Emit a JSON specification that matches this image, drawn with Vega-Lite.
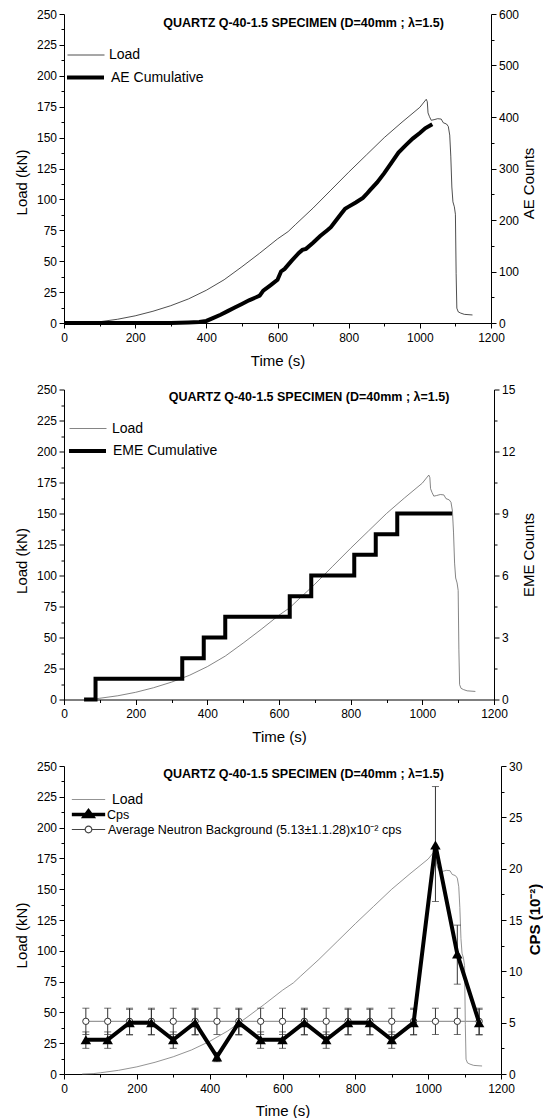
{
  "$schema": "https://vega.github.io/schema/vega-lite/v6.json",
  "padding": {"left": 14, "top": 8, "right": 0, "bottom": 0},
  "spacing": 15.5,
  "datasets": {
    "load": [
      {"t": 0, "kN": 0}, {"t": 50, "kN": 0}, {"t": 80, "kN": 0.3}, {"t": 100, "kN": 1}, {"t": 150, "kN": 3},
      {"t": 200, "kN": 5.8}, {"t": 250, "kN": 9.5}, {"t": 300, "kN": 14}, {"t": 350, "kN": 19.5}, {"t": 400, "kN": 26.5},
      {"t": 450, "kN": 35}, {"t": 500, "kN": 45.5}, {"t": 550, "kN": 56.5}, {"t": 600, "kN": 68}, {"t": 630, "kN": 74},
      {"t": 650, "kN": 79.5}, {"t": 700, "kN": 93}, {"t": 750, "kN": 107.5}, {"t": 800, "kN": 122}, {"t": 850, "kN": 136},
      {"t": 900, "kN": 150}, {"t": 950, "kN": 162.5}, {"t": 1000, "kN": 174.5}, {"t": 1018, "kN": 181}, {"t": 1021, "kN": 179},
      {"t": 1023, "kN": 170}, {"t": 1027, "kN": 167}, {"t": 1032, "kN": 164}, {"t": 1040, "kN": 164.5}, {"t": 1050, "kN": 165.3},
      {"t": 1060, "kN": 165}, {"t": 1066, "kN": 162}, {"t": 1075, "kN": 161}, {"t": 1080, "kN": 159}, {"t": 1084, "kN": 152},
      {"t": 1087, "kN": 135}, {"t": 1090, "kN": 110}, {"t": 1093, "kN": 98}, {"t": 1097, "kN": 94}, {"t": 1100, "kN": 88},
      {"t": 1102, "kN": 40}, {"t": 1104, "kN": 12}, {"t": 1108, "kN": 9}, {"t": 1115, "kN": 8}, {"t": 1125, "kN": 7}, {"t": 1148, "kN": 6.5}
    ],
    "ae": [
      {"t": 0, "n": 0}, {"t": 300, "n": 0}, {"t": 350, "n": 1}, {"t": 380, "n": 2}, {"t": 400, "n": 4}, {"t": 420, "n": 10},
      {"t": 440, "n": 16}, {"t": 460, "n": 23}, {"t": 480, "n": 30}, {"t": 500, "n": 37}, {"t": 520, "n": 44}, {"t": 540, "n": 50},
      {"t": 550, "n": 53}, {"t": 560, "n": 63}, {"t": 580, "n": 73}, {"t": 600, "n": 84}, {"t": 610, "n": 100}, {"t": 620, "n": 105},
      {"t": 640, "n": 121}, {"t": 660, "n": 136}, {"t": 670, "n": 142}, {"t": 680, "n": 144}, {"t": 700, "n": 156}, {"t": 720, "n": 169},
      {"t": 740, "n": 180}, {"t": 750, "n": 186}, {"t": 760, "n": 195}, {"t": 780, "n": 213}, {"t": 790, "n": 222}, {"t": 800, "n": 226},
      {"t": 820, "n": 234}, {"t": 840, "n": 243}, {"t": 850, "n": 250}, {"t": 860, "n": 258}, {"t": 880, "n": 273}, {"t": 900, "n": 291},
      {"t": 920, "n": 311}, {"t": 940, "n": 331}, {"t": 960, "n": 345}, {"t": 980, "n": 358}, {"t": 1000, "n": 369}, {"t": 1015, "n": 378},
      {"t": 1035, "n": 386}
    ],
    "eme": [
      {"t": 56, "n": 0}, {"t": 88, "n": 1}, {"t": 330, "n": 2}, {"t": 390, "n": 3}, {"t": 450, "n": 4}, {"t": 630, "n": 5},
      {"t": 690, "n": 6}, {"t": 810, "n": 7}, {"t": 870, "n": 8}, {"t": 930, "n": 9}, {"t": 1083, "n": 9}
    ],
    "cps": [
      {"t": 60, "v": 3.33, "lo": 2.5, "hi": 4.1}, {"t": 120, "v": 3.33, "lo": 2.5, "hi": 4.1},
      {"t": 180, "v": 5, "lo": 3.8, "hi": 6.3}, {"t": 240, "v": 5, "lo": 3.8, "hi": 6.3},
      {"t": 300, "v": 3.33, "lo": 2.5, "hi": 4.1}, {"t": 360, "v": 5, "lo": 3.8, "hi": 6.3},
      {"t": 420, "v": 1.67, "lo": 1.2, "hi": 2.1}, {"t": 480, "v": 5, "lo": 3.8, "hi": 6.3},
      {"t": 540, "v": 3.33, "lo": 2.5, "hi": 4.1}, {"t": 600, "v": 3.33, "lo": 2.5, "hi": 4.1},
      {"t": 660, "v": 5, "lo": 3.8, "hi": 6.3}, {"t": 720, "v": 3.33, "lo": 2.5, "hi": 4.1},
      {"t": 780, "v": 5, "lo": 3.8, "hi": 6.3}, {"t": 840, "v": 5, "lo": 3.8, "hi": 6.3},
      {"t": 900, "v": 3.33, "lo": 2.5, "hi": 4.1}, {"t": 960, "v": 5, "lo": 3.8, "hi": 6.3},
      {"t": 1020, "v": 22.3, "lo": 16.8, "hi": 28}, {"t": 1080, "v": 11.7, "lo": 8.75, "hi": 14.5},
      {"t": 1140, "v": 5, "lo": 3.8, "hi": 6.3}
    ],
    "bg": [
      {"t": 60, "v": 5.13, "lo": 3.85, "hi": 6.41}, {"t": 120, "v": 5.13, "lo": 3.85, "hi": 6.41}, {"t": 180, "v": 5.13, "lo": 3.85, "hi": 6.41},
      {"t": 240, "v": 5.13, "lo": 3.85, "hi": 6.41}, {"t": 300, "v": 5.13, "lo": 3.85, "hi": 6.41}, {"t": 360, "v": 5.13, "lo": 3.85, "hi": 6.41},
      {"t": 420, "v": 5.13, "lo": 3.85, "hi": 6.41}, {"t": 480, "v": 5.13, "lo": 3.85, "hi": 6.41}, {"t": 540, "v": 5.13, "lo": 3.85, "hi": 6.41},
      {"t": 600, "v": 5.13, "lo": 3.85, "hi": 6.41}, {"t": 660, "v": 5.13, "lo": 3.85, "hi": 6.41}, {"t": 720, "v": 5.13, "lo": 3.85, "hi": 6.41},
      {"t": 780, "v": 5.13, "lo": 3.85, "hi": 6.41}, {"t": 840, "v": 5.13, "lo": 3.85, "hi": 6.41}, {"t": 900, "v": 5.13, "lo": 3.85, "hi": 6.41},
      {"t": 960, "v": 5.13, "lo": 3.85, "hi": 6.41}, {"t": 1020, "v": 5.13, "lo": 3.85, "hi": 6.41}, {"t": 1080, "v": 5.13, "lo": 3.85, "hi": 6.41},
      {"t": 1140, "v": 5.13, "lo": 3.85, "hi": 6.41}
    ]
  },
  "resolve": {"scale": {"color": "independent", "opacity": "independent", "strokeWidth": "independent"}},
  "vconcat": [
    {
      "width": 427, "height": 309,
      "title": {"text": "QUARTZ Q-40-1.5 SPECIMEN (D=40mm ; λ=1.5)", "frame": "group", "anchor": "middle", "dx": 26, "offset": -21},
      "encoding": {
        "x": {"field": "t", "type": "quantitative", "scale": {"domain": [0, 1200], "nice": false},
          "axis": {"values": [0,100,200,300,400,500,600,700,800,900,1000,1100,1200], "format": "d",
            "labelExpr": "datum.value % 200 === 0 ? datum.label : ''",
            "tickSize": {"condition": {"test": "datum.value % 200 === 0", "value": 5}, "value": 3},
            "title": "Time (s)", "titlePadding": 10, "labelPadding": 4}}
      },
      "layer": [
        {
          "data": {"name": "load"},
          "mark": {"type": "line", "color": "#222", "strokeWidth": 0.8},
          "encoding": {
            "y": {"field": "kN", "type": "quantitative", "scale": {"domain": [0, 250], "nice": false},
              "axis": {"orient": "left", "values": [0,12.5,25,37.5,50,62.5,75,87.5,100,112.5,125,137.5,150,162.5,175,187.5,200,212.5,225,237.5,250],
                "format": "d", "labelExpr": "datum.value % 25 === 0 ? datum.label : ''",
                "tickSize": {"condition": {"test": "datum.value % 25 === 0", "value": 5}, "value": 3},
                "title": "Load (kN)", "titlePadding": 7, "titleY": 168}},
            "color": {"datum": "Load", "scale": {"range": ["#222"]},
              "legend": {"orient": "none", "legendX": 3, "legendY": 22, "title": null, "symbolType": "stroke", "symbolSize": 1369,
                "symbolStrokeWidth": 0.8, "labelFontSize": 14, "labelOffset": 4, "padding": 0}}
          }
        },
        {
          "data": {"name": "ae"},
          "mark": {"type": "line", "color": "black", "strokeWidth": 4},
          "encoding": {
            "y": {"field": "n", "type": "quantitative", "scale": {"domain": [0, 600], "nice": false},
              "axis": {"orient": "right", "values": [0,50,100,150,200,250,300,350,400,450,500,550,600],
                "format": "d", "labelExpr": "datum.value % 100 === 0 ? datum.label : ''",
                "tickSize": {"condition": {"test": "datum.value % 100 === 0", "value": 5}, "value": 3},
                "title": "AE Counts", "titleAngle": 270, "titleBaseline": "top", "titlePadding": 3, "titleY": 169}},
            "opacity": {"datum": "AE Cumulative", "scale": {"range": [1, 1]},
              "legend": {"orient": "none", "legendX": 1, "legendY": 43, "title": null, "symbolType": "stroke", "symbolSize": 1369,
                "symbolStrokeColor": "black", "symbolStrokeWidth": 4, "labelFontSize": 14, "labelOffset": 5, "padding": 0}}
          }
        }
      ],
      "resolve": {"scale": {"y": "independent"}}
    },
    {
      "width": 430, "height": 310,
      "title": {"text": "QUARTZ Q-40-1.5 SPECIMEN (D=40mm ; λ=1.5)", "frame": "group", "anchor": "middle", "dx": 30, "offset": -20},
      "encoding": {
        "x": {"field": "t", "type": "quantitative", "scale": {"domain": [0, 1200], "nice": false},
          "axis": {"values": [0,100,200,300,400,500,600,700,800,900,1000,1100,1200], "format": "d",
            "labelExpr": "datum.value % 200 === 0 ? datum.label : ''",
            "tickSize": {"condition": {"test": "datum.value % 200 === 0", "value": 5}, "value": 3},
            "title": "Time (s)", "titlePadding": 10, "labelPadding": 4}}
      },
      "layer": [
        {
          "data": {"name": "load"},
          "transform": [{"filter": "datum.t >= 80"}],
          "mark": {"type": "line", "color": "#666", "strokeWidth": 0.8},
          "encoding": {
            "y": {"field": "kN", "type": "quantitative", "scale": {"domain": [0, 250], "nice": false},
              "axis": {"orient": "left", "values": [0,12.5,25,37.5,50,62.5,75,87.5,100,112.5,125,137.5,150,162.5,175,187.5,200,212.5,225,237.5,250],
                "format": "d", "labelExpr": "datum.value % 25 === 0 ? datum.label : ''",
                "tickSize": {"condition": {"test": "datum.value % 25 === 0", "value": 5}, "value": 3},
                "title": "Load (kN)", "titlePadding": 7, "titleY": 171}},
            "color": {"datum": "Load", "scale": {"range": ["#666"]},
              "legend": {"orient": "none", "legendX": 5, "legendY": 20, "title": null, "symbolType": "stroke", "symbolSize": 1369,
                "symbolStrokeWidth": 0.8, "labelFontSize": 14, "labelOffset": 5, "padding": 0}}
          }
        },
        {
          "data": {"name": "eme"},
          "mark": {"type": "line", "color": "black", "strokeWidth": 4, "interpolate": "step-after"},
          "encoding": {
            "y": {"field": "n", "type": "quantitative", "scale": {"domain": [0, 15], "nice": false},
              "axis": {"orient": "right", "values": [0,1.5,3,4.5,6,7.5,9,10.5,12,13.5,15],
                "format": "d", "labelExpr": "datum.value % 3 === 0 ? datum.label : ''",
                "tickSize": {"condition": {"test": "datum.value % 3 === 0", "value": 5}, "value": 3},
                "title": "EME Counts", "titleAngle": 270, "titleBaseline": "top", "titlePadding": 7, "titleY": 165}},
            "opacity": {"datum": "EME Cumulative", "scale": {"range": [1, 1]},
              "legend": {"orient": "none", "legendX": 3, "legendY": 41, "title": null, "symbolType": "stroke", "symbolSize": 1369,
                "symbolStrokeColor": "black", "symbolStrokeWidth": 4, "labelFontSize": 14, "labelOffset": 5, "padding": 0}}
          }
        }
      ],
      "resolve": {"scale": {"y": "independent"}}
    },
    {
      "width": 437, "height": 308,
      "title": {"text": "QUARTZ Q-40-1.5 SPECIMEN (D=40mm ; λ=1.5)", "frame": "group", "anchor": "middle", "dx": 21, "offset": -20},
      "encoding": {
        "x": {"field": "t", "type": "quantitative", "scale": {"domain": [0, 1200], "nice": false},
          "axis": {"values": [0,100,200,300,400,500,600,700,800,900,1000,1100,1200], "format": "d",
            "labelExpr": "datum.value % 200 === 0 ? datum.label : ''",
            "tickSize": {"condition": {"test": "datum.value % 200 === 0", "value": 5}, "value": 3},
            "title": "Time (s)", "titlePadding": 9, "labelPadding": 4}}
      },
      "layer": [
        {
          "data": {"name": "load"},
          "transform": [{"filter": "datum.t >= 50"}],
          "mark": {"type": "line", "color": "#777", "strokeWidth": 0.8},
          "encoding": {
            "y": {"field": "kN", "type": "quantitative", "scale": {"domain": [0, 250], "nice": false},
              "axis": {"orient": "left", "values": [0,12.5,25,37.5,50,62.5,75,87.5,100,112.5,125,137.5,150,162.5,175,187.5,200,212.5,225,237.5,250],
                "format": "d", "labelExpr": "datum.value % 25 === 0 ? datum.label : ''",
                "tickSize": {"condition": {"test": "datum.value % 25 === 0", "value": 5}, "value": 3},
                "title": "Load (kN)", "titlePadding": 7, "titleY": 169}},
            "color": {"datum": "Load", "scale": {"range": ["#777"]},
              "legend": {"orient": "none", "legendX": 7, "legendY": 16, "title": null, "symbolType": "stroke", "symbolSize": 1111,
                "symbolStrokeWidth": 0.8, "labelFontSize": 14, "labelOffset": 6, "padding": 0}}
          }
        },
        {
          "encoding": {
            "y": {"field": "v", "type": "quantitative", "scale": {"domain": [0, 30], "nice": false},
              "axis": {"orient": "right", "values": [0,2.5,5,7.5,10,12.5,15,17.5,20,22.5,25,27.5,30],
                "format": "d", "labelExpr": "datum.value % 5 === 0 ? datum.label : ''",
                "tickSize": {"condition": {"test": "datum.value % 5 === 0", "value": 5}, "value": 3},
                "title": "CPS (10⁻²)", "titleFontWeight": "bold", "titleFontSize": 15, "titleAngle": 270, "titleBaseline": "top", "titlePadding": 6, "titleY": 153}}
          },
          "layer": [
            {
              "data": {"name": "bg"},
              "mark": {"type": "line", "color": "#999", "strokeWidth": 1.2},
              "encoding": {
                "strokeWidth": {"datum": "Average Neutron Background (5.13±1.1.28)x10⁻² cps", "scale": {"range": [1.2, 1.2]},
                  "legend": {"orient": "none", "legendX": 7, "legendY": 46, "title": null,
                    "symbolType": "M-1,0H-0.2M0.2,0H1M0.2,0A0.2,0.2,0,1,1,-0.2,0A0.2,0.2,0,1,1,0.2,0Z",
                    "symbolSize": 1111, "symbolStrokeColor": "#444", "symbolFillColor": "white",
                    "labelFontSize": 12.5, "labelOffset": 2, "labelLimit": 500, "padding": 0}}
              }
            },
            {
              "data": {"name": "bg"},
              "mark": {"type": "errorbar", "color": "#333", "ticks": {"size": 7}},
              "encoding": {
                "y": {"field": "hi", "type": "quantitative", "scale": {"domain": [0, 30], "nice": false},
                  "axis": {"orient": "right", "values": [0,2.5,5,7.5,10,12.5,15,17.5,20,22.5,25,27.5,30],
                    "format": "d", "labelExpr": "datum.value % 5 === 0 ? datum.label : ''",
                    "tickSize": {"condition": {"test": "datum.value % 5 === 0", "value": 5}, "value": 3},
                    "title": "CPS (10⁻²)", "titleFontWeight": "bold", "titleFontSize": 15, "titleAngle": 270, "titleBaseline": "top", "titlePadding": 6, "titleY": 153}},
                "y2": {"field": "lo"}
              }
            },
            {
              "data": {"name": "bg"},
              "mark": {"type": "point", "shape": "circle", "size": 40, "filled": true, "fill": "white", "stroke": "#333", "strokeWidth": 1, "opacity": 1}
            },
            {
              "data": {"name": "cps"},
              "mark": {"type": "errorbar", "color": "#333", "ticks": {"size": 7}},
              "encoding": {
                "y": {"field": "hi", "type": "quantitative", "scale": {"domain": [0, 30], "nice": false},
                  "axis": {"orient": "right", "values": [0,2.5,5,7.5,10,12.5,15,17.5,20,22.5,25,27.5,30],
                    "format": "d", "labelExpr": "datum.value % 5 === 0 ? datum.label : ''",
                    "tickSize": {"condition": {"test": "datum.value % 5 === 0", "value": 5}, "value": 3},
                    "title": "CPS (10⁻²)", "titleFontWeight": "bold", "titleFontSize": 15, "titleAngle": 270, "titleBaseline": "top", "titlePadding": 6, "titleY": 153}},
                "y2": {"field": "lo"}
              }
            },
            {
              "data": {"name": "cps"},
              "mark": {"type": "line", "color": "black", "strokeWidth": 4},
              "encoding": {
                "opacity": {"datum": "Cps", "scale": {"range": [1, 1]},
                  "legend": {"orient": "none", "legendX": 6, "legendY": 30, "title": null,
                    "symbolType": "M-1,0H1M-0.25,0.12L0,-0.22L0.25,0.12Z",
                    "symbolSize": 1111, "symbolStrokeColor": "black", "symbolFillColor": "black", "symbolStrokeWidth": 3.5,
                    "labelFontSize": 12.5, "labelOffset": 0, "padding": 0}}
              }
            },
            {
              "data": {"name": "cps"},
              "mark": {"type": "point", "shape": "triangle-up", "size": 110, "filled": true, "color": "black", "opacity": 1}
            }
          ]
        }
      ],
      "resolve": {"scale": {"y": "independent"}}
    }
  ],
  "config": {
    "font": "Liberation Sans",
    "view": {"stroke": null},
    "axis": {"grid": false, "domainColor": "black", "domainWidth": 1, "tickColor": "black", "tickWidth": 1,
      "labelColor": "black", "labelFont": "Liberation Sans", "labelFontSize": 12, "labelFlush": false, "labelOverlap": false,
      "titleFont": "Liberation Sans", "titleFontSize": 15, "titleFontWeight": "normal", "titleColor": "black", "labelPadding": 2.5},
    "legend": {"labelFont": "Liberation Sans", "labelColor": "black", "padding": 0},
    "title": {"font": "Liberation Sans", "fontSize": 12.5, "fontWeight": "bold", "color": "black"}
  }
}
